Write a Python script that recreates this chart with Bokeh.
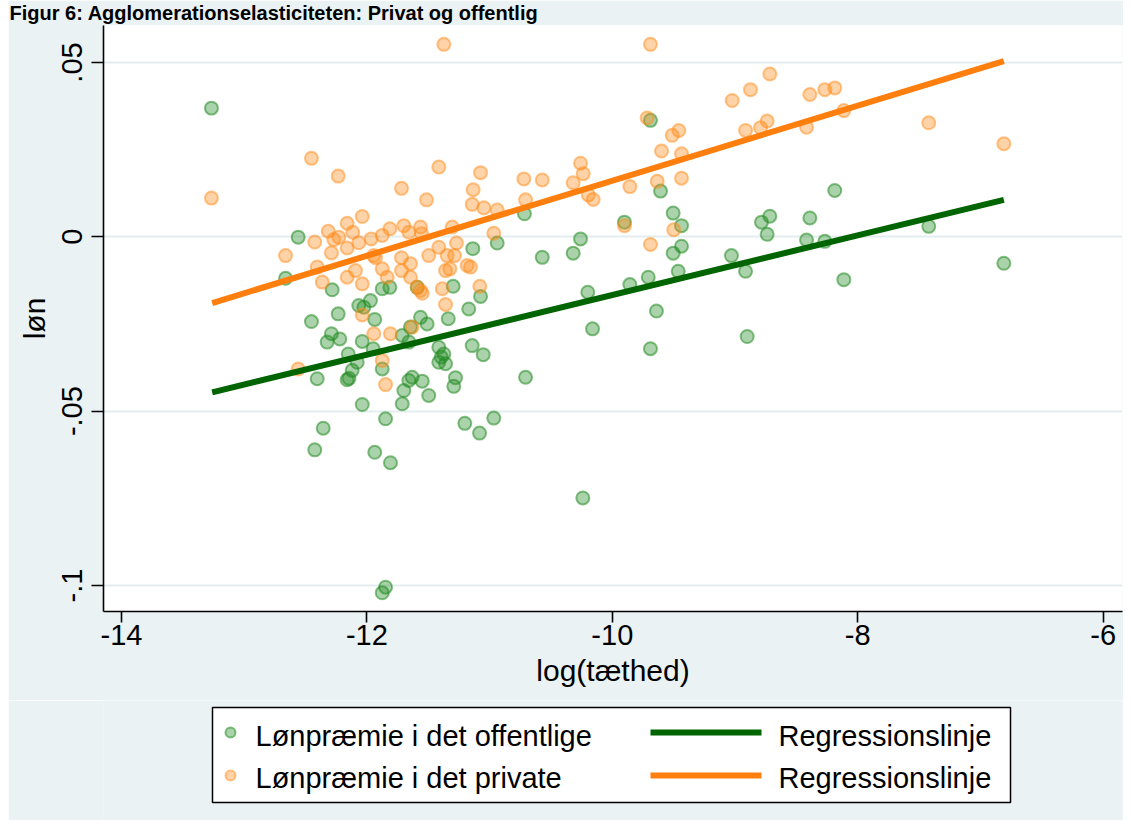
from bokeh.plotting import figure
from bokeh.models import ColumnDataSource, FixedTicker, Range1d, Spacer
from bokeh.layouts import row, column
from bokeh.core.properties import value
from bokeh.embed import file_html
from bokeh.resources import INLINE

# ---------------- data ----------------
title_text = "Figur 6: Agglomerationselasticiteten: Privat og offentlig"
x_title = "log(tæthed)"
y_title = "løn"
x_ticks = [-14, -12, -10, -8, -6]
x_tick_labels = ["-14", "-12", "-10", "-8", "-6"]
y_ticks = [-0.1, -0.05, 0, 0.05]
y_tick_labels = ["-.1", "-.05", "0", ".05"]

series_pub = "Lønpræmie i det offentlige"
series_priv = "Lønpræmie i det private"
reg_label = "Regressionslinje"

pub_x = [-13.267, -12.560, -12.663, -12.283, -11.875, -11.813, -11.590, -11.971, -12.066, -12.025,
         -12.234, -12.452, -11.936, -11.563, -11.509, -11.337, -11.297, -11.074, -11.170, -12.289,
         -12.324, -12.221, -12.038, -12.152, -12.079, -12.120, -11.949, -11.875, -12.405, -12.161,
         -12.146, -11.712, -11.658, -11.414, -11.373, -11.414, -11.359, -11.394, -11.631, -11.658,
         -11.549, -11.699, -11.496, -11.712, -12.038, -11.848, -12.356, -12.425, -11.936, -11.808,
         -11.848, -11.875, -11.278, -11.292, -11.142, -11.052, -10.707, -11.202, -11.082, -10.966,
         -10.240, -10.200, -10.161, -9.857, -9.640, -9.689, -8.901, -9.689, -9.607, -9.504,
         -9.436, -9.436, -9.504, -9.463, -9.707, -9.901, -10.259, -10.319, -10.571, -10.716,
         -10.938, -11.137, -9.029, -8.914, -8.716, -8.784, -8.738, -8.390, -8.417, -8.268,
         -8.187, -8.113, -7.421, -6.809, -11.645]
pub_y = [0.0369, -0.0001, -0.0119, -0.0152, -0.0149, -0.0145, -0.0145, -0.0183, -0.0197, -0.0202,
         -0.0221, -0.0243, -0.0237, -0.0231, -0.0250, -0.0235, -0.0142, -0.0171, -0.0207, -0.0278,
         -0.0302, -0.0293, -0.0300, -0.0336, -0.0360, -0.0383, -0.0321, -0.0379, -0.0407, -0.0410,
         -0.0406, -0.0283, -0.0302, -0.0317, -0.0336, -0.0360, -0.0364, -0.0345, -0.0403, -0.0412,
         -0.0414, -0.0441, -0.0455, -0.0479, -0.0481, -0.0522, -0.0549, -0.0611, -0.0618, -0.0648,
         -0.1005, -0.1021, -0.0404, -0.0429, -0.0312, -0.0338, -0.0403, -0.0535, -0.0563, -0.0520,
         -0.0749, -0.0159, -0.0264, -0.0137, -0.0213, -0.0321, -0.0286, 0.0334, 0.0131, 0.0068,
         0.0032, -0.0027, -0.0047, -0.0099, -0.0116, 0.0042, -0.0006, -0.0047, -0.0059, 0.0066,
         -0.0018, -0.0034, -0.0054, -0.0099, 0.0059, 0.0042, 0.0007, 0.0054, -0.0009, -0.0013,
         0.0133, -0.0123, 0.0030, -0.0076, -0.0259]

priv_x = [-11.373, -9.689, -13.267, -12.452, -12.234, -11.718, -11.514, -11.414, -12.038, -12.161,
          -12.315, -12.425, -12.663, -12.289, -12.270, -12.229, -12.115, -12.161, -12.066, -11.965,
          -11.875, -11.813, -11.699, -11.658, -11.563, -11.555, -11.414, -11.496, -11.718, -11.645,
          -11.944, -11.930, -12.093, -12.161, -12.038, -12.364, -12.405, -11.875, -11.835, -11.718,
          -11.645, -11.563, -11.359, -11.346, -11.386, -11.359, -12.038, -12.560, -11.944, -11.808,
          -11.875, -11.848, -11.631, -11.590, -11.549, -11.305, -11.270, -11.286, -11.183, -11.156,
          -11.324, -11.074, -11.134, -11.142, -11.047, -10.938, -10.966, -11.080, -10.721, -10.707,
          -10.571, -10.259, -10.237, -10.319, -10.196, -10.156, -9.857, -9.634, -9.901, -9.689,
          -9.499, -9.716, -9.512, -9.458, -9.599, -9.436, -9.436, -9.023, -8.874, -8.716,
          -8.914, -8.792, -8.738, -8.417, -8.390, -8.268, -8.187, -8.113, -7.421, -6.809]
priv_y = [0.0552, 0.0552, 0.0111, 0.0225, 0.0174, 0.0139, 0.0106, 0.0200, 0.0058, 0.0039,
          0.0016, -0.0015, -0.0054, -0.0046, -0.0008, -0.0001, 0.0013, -0.0032, -0.0017, -0.0006,
          0.0004, 0.0023, 0.0032, 0.0013, 0.0028, 0.0009, -0.0030, -0.0054, -0.0060, -0.0077,
          -0.0054, -0.0060, -0.0097, -0.0116, -0.0135, -0.0130, -0.0087, -0.0092, -0.0116, -0.0097,
          -0.0116, -0.0154, -0.0097, -0.0054, -0.0149, -0.0194, -0.0224, -0.0379, -0.0278, -0.0278,
          -0.0355, -0.0424, -0.0259, -0.0145, -0.0162, 0.0028, -0.0018, -0.0054, -0.0082, -0.0087,
          -0.0092, 0.0184, 0.0135, 0.0093, 0.0083, 0.0077, 0.0010, -0.0142, 0.0166, 0.0106,
          0.0163, 0.0211, 0.0181, 0.0155, 0.0120, 0.0107, 0.0144, 0.0159, 0.0032, -0.0022,
          0.0020, 0.0341, 0.0291, 0.0305, 0.0246, 0.0238, 0.0168, 0.0391, 0.0422, 0.0467,
          0.0305, 0.0313, 0.0332, 0.0314, 0.0408, 0.0422, 0.0427, 0.0362, 0.0327, 0.0267]

reg_x = [-13.261, -6.809]
reg_pub_y = [-0.0446, 0.0106]
reg_priv_y = [-0.0190, 0.0504]

# ---------------- styling ----------------
FONT = "Liberation Sans"
GREEN = "#228b22"
ORANGE = "#ff8c1a"
GREEN_LINE = "#006400"
ORANGE_LINE = "#ff7f0e"
BG = "#eaf2f3"
W = 1115
BL, BR = 95, 1   # left / right borders shared by both panels

pub_style = dict(fill_color=GREEN, fill_alpha=0.38, line_color=GREEN, line_alpha=0.55, line_width=2)
priv_style = dict(fill_color=ORANGE, fill_alpha=0.38, line_color=ORANGE, line_alpha=0.5, line_width=2)

# ---------------- main plot ----------------
p = figure(width=W, height=700, output_backend="svg", toolbar_location=None,
           x_range=(-14.1467, -5.842), y_range=(-0.10747, 0.0606),
           min_border_left=BL, min_border_right=BR, min_border_top=25, min_border_bottom=89)
p.title.text = title_text
p.title.text_font = FONT
p.title.text_font_size = "20px"
p.title.text_font_style = "bold"
p.title.text_color = "black"
p.title.align = "left"
p.title.offset = -94
p.title.standoff = 0
p.title.vertical_align = "top"

p.background_fill_color = "white"
p.border_fill_color = BG
p.outline_line_color = None

p.xgrid.visible = False
p.ygrid.grid_line_color = "#e3edf0"
p.ygrid.grid_line_width = 2

for ax in (p.xaxis[0], p.yaxis[0]):
    ax.axis_line_color = "black"
    ax.axis_line_width = 1.6
    ax.major_tick_line_color = "black"
    ax.major_tick_line_width = 1.6
    ax.major_tick_in = 0
    ax.minor_tick_line_color = None
    ax.major_label_text_font = FONT
    ax.major_label_text_font_size = "29px"
    ax.major_label_text_color = "black"
    ax.axis_label_text_font = FONT
    ax.axis_label_text_font_size = "30px"
    ax.axis_label_text_font_style = "normal"
    ax.axis_label_text_color = "black"

p.xaxis.ticker = FixedTicker(ticks=x_ticks)
p.xaxis.major_label_overrides = dict(zip(x_ticks, x_tick_labels))
p.xaxis.major_tick_out = 11
p.xaxis.major_label_standoff = 2
p.xaxis.axis_label = x_title
p.xaxis.axis_label_standoff = 6

p.yaxis.ticker = FixedTicker(ticks=y_ticks)
p.yaxis.major_label_overrides = dict(zip(y_ticks, y_tick_labels))
p.yaxis.major_tick_out = 12
p.yaxis.major_label_standoff = 9
p.yaxis.major_label_orientation = "vertical"
p.yaxis.axis_label = y_title
p.yaxis.axis_label_standoff = 9

src_pub = ColumnDataSource(dict(x=pub_x, y=pub_y))
src_priv = ColumnDataSource(dict(x=priv_x, y=priv_y))
src_reg = ColumnDataSource(dict(x=reg_x, pub=reg_pub_y, priv=reg_priv_y))

p.scatter("x", "y", source=src_pub, marker="circle", size=13, **pub_style)
p.scatter("x", "y", source=src_priv, marker="circle", size=13, **priv_style)
p.line("x", "pub", source=src_reg, line_color=GREEN_LINE, line_width=6)
p.line("x", "priv", source=src_reg, line_color=ORANGE_LINE, line_width=6)

# ---------------- legend strip (x in canvas pixels) ----------------
q = figure(width=W, height=120, output_backend="svg", toolbar_location=None,
           x_range=Range1d(BL, W - BR), y_range=Range1d(120, 0),
           x_axis_location=None, y_axis_location=None,
           min_border_left=BL, min_border_right=BR, min_border_top=0, min_border_bottom=0)
q.background_fill_color = BG
q.border_fill_color = BG
q.outline_line_color = None
q.grid.visible = False

q.quad(left=[204], right=[1002], top=[7], bottom=[102],
       fill_color="white", line_color="black", line_width=1.5)
q.scatter([222], [32], marker="circle", size=10, **pub_style)
q.scatter([222], [75], marker="circle", size=10, **priv_style)
q.segment(x0=[642], x1=[753], y0=[32], y1=[32], line_color=GREEN_LINE, line_width=6)
q.segment(x0=[642], x1=[753], y0=[75], y1=[75], line_color=ORANGE_LINE, line_width=6)
q.text(x=[247, 247, 770, 770], y=[35, 77, 35, 77],
       text=[series_pub, series_priv, reg_label, reg_label],
       text_font=value(FONT), text_font_size="29px", text_color="black",
       text_baseline="middle", text_align="left")

layout = row(Spacer(width=8, height=820), column(p, q))

open("out.html", "w").write(file_html(layout, INLINE))
